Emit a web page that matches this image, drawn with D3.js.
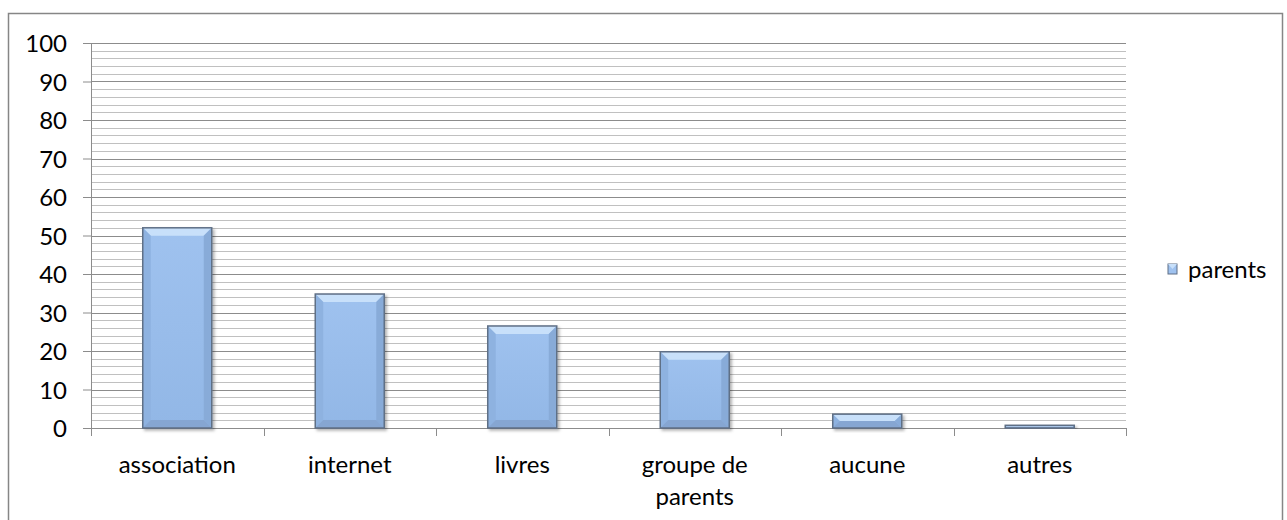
<!DOCTYPE html>
<html>
<head>
<meta charset="utf-8">
<script src="https://cdn.jsdelivr.net/npm/d3@7"></script>
<style>
  body { margin: 0; background: #fff; }
  text { font-family: Lato, "Open Sans", sans-serif; fill: #000; }
</style>
</head>
<body>
<div id="chart"></div>
<script>
// chart data
var categories = ["association", "internet", "livres", "groupe de parents", "aucune", "autres"]
var labelLines = [["association"], ["internet"], ["livres"], ["groupe de", "parents"], ["aucune"], ["autres"]]
var values = [52, 34.8, 26.5, 19.8, 3.6, 0.7]
var seriesName = "parents"
var yTicks = [0, 10, 20, 30, 40, 50, 60, 70, 80, 90, 100]

var W = 1287, H = 520
var margin = {top: 43, left: 91, right: 161, bottom: 92}
var width = W - margin.left - margin.right
var height = H - margin.top - margin.bottom
var fontSize = "24px"

var svg = d3.select("#chart").append("svg").attr("width", W).attr("height", H)

var defs = svg.append("defs")
var grad = defs.append("linearGradient").attr("id", "barGrad").attr("x1", 0).attr("y1", 0).attr("x2", 0).attr("y2", 1)
grad.append("stop").attr("offset", "0%").attr("stop-color", "#9fc2ef")
grad.append("stop").attr("offset", "100%").attr("stop-color", "#92b7e6")
var shadow = defs.append("filter").attr("id", "shadow").attr("x", "-20%").attr("y", "-20%").attr("width", "150%").attr("height", "150%")
shadow.append("feDropShadow").attr("dx", 2).attr("dy", 2).attr("stdDeviation", 1.5).attr("flood-color", "#000").attr("flood-opacity", 0.3)

// outer frame
svg.append("rect")
  .attr("x", 8.5).attr("y", 13.5).attr("width", 1274).attr("height", 520)
  .style("fill", "none").style("stroke", "#868686").style("stroke-width", "1.5px")

var g = svg.append("g").attr("transform", "translate(" + margin.left + "," + margin.top + ")")

var x = d3.scaleBand().domain(categories).range([0, width]).paddingInner(0.6).paddingOuter(0.3)
var xBand = d3.scaleBand().domain(categories).range([0, width])
var y = d3.scaleLinear().domain([0, 100]).range([height, 0])

// minor and major gridlines
var minor = d3.range(2, 100, 2).filter(function(d){ return d % 10 != 0 })
g.selectAll(".minor").data(minor).enter().append("line")
  .attr("x1", 0).attr("x2", width)
  .attr("y1", function(d){ return Math.round(y(d)) + 0.5 })
  .attr("y2", function(d){ return Math.round(y(d)) + 0.5 })
  .style("stroke", "#c0c0c0").style("stroke-width", "1.2px")
g.selectAll(".major").data(yTicks.slice(1)).enter().append("line")
  .attr("x1", 0).attr("x2", width)
  .attr("y1", function(d){ return Math.round(y(d)) + 0.5 })
  .attr("y2", function(d){ return Math.round(y(d)) + 0.5 })
  .style("stroke", "#8c8c8c").style("stroke-width", "1.2px")

// y axis
var yAxis = g.append("g").call(d3.axisLeft(y).tickValues(yTicks).tickSize(8).tickPadding(16))
yAxis.select(".domain").style("stroke", "#8c8c8c")
yAxis.selectAll(".tick line").style("stroke", "#8c8c8c")
yAxis.selectAll(".tick text").style("font-size", fontSize).attr("dy", "0.36em")

// x axis with ticks at band boundaries
var xAxisG = g.append("g").attr("transform", "translate(0," + height + ")")
xAxisG.append("line").attr("x1", 0).attr("x2", width).attr("y1", 0.5).attr("y2", 0.5).style("stroke", "#8c8c8c")
var bounds = categories.map(function(c){ return xBand(c) }).concat([width])
xAxisG.selectAll(".xtick").data(bounds).enter().append("line")
  .attr("x1", function(d){ return Math.round(d) + 0.5 }).attr("x2", function(d){ return Math.round(d) + 0.5 })
  .attr("y1", 0).attr("y2", 8).style("stroke", "#8c8c8c")
var xl = xAxisG.selectAll(".xlabel").data(categories).enter().append("text")
  .attr("text-anchor", "middle")
  .attr("x", function(d){ return xBand(d) + xBand.bandwidth() / 2 })
  .attr("y", 45)
  .style("font-size", fontSize)
xl.selectAll("tspan").data(function(d, i){ return labelLines[i] }).enter().append("tspan")
  .attr("x", function(){ return d3.select(this.parentNode).attr("x") })
  .attr("dy", function(d, i){ return i == 0 ? 0 : 32 })
  .text(function(d){ return d })

// bars with bevel
var bars = g.selectAll(".bar").data(values).enter().append("g").attr("class", "bar")
  .attr("filter", "url(#shadow)")
bars.each(function(v, i){
  var b = d3.select(this)
  var bx = x(categories[i]), bw = x.bandwidth()
  var by = y(v), bh = height - y(v)
  b.append("rect").attr("x", bx).attr("y", by).attr("width", bw).attr("height", bh)
    .style("fill", "url(#barGrad)")
  var bev = Math.min(8, bh / 2, bw / 2)
  if(bh > 2){
    // top light
    b.append("path").attr("d", "M" + bx + "," + by + "L" + (bx + bw) + "," + by + "L" + (bx + bw - bev) + "," + (by + bev) + "L" + (bx + bev) + "," + (by + bev) + "Z")
      .style("fill", "#c8e0fa")
    // left
    b.append("path").attr("d", "M" + bx + "," + by + "L" + (bx + bev) + "," + (by + bev) + "L" + (bx + bev) + "," + (by + bh - bev) + "L" + bx + "," + (by + bh) + "Z")
      .style("fill", "#8eb2e0")
    // right
    b.append("path").attr("d", "M" + (bx + bw) + "," + by + "L" + (bx + bw - bev) + "," + (by + bev) + "L" + (bx + bw - bev) + "," + (by + bh - bev) + "L" + (bx + bw) + "," + (by + bh) + "Z")
      .style("fill", "#88abd8")
    // bottom
    b.append("path").attr("d", "M" + bx + "," + (by + bh) + "L" + (bx + bev) + "," + (by + bh - bev) + "L" + (bx + bw - bev) + "," + (by + bh - bev) + "L" + (bx + bw) + "," + (by + bh) + "Z")
      .style("fill", "#86a6d2")
  }
  b.append("rect").attr("x", bx).attr("y", by).attr("width", bw).attr("height", Math.max(bh, 1))
    .style("fill", bh > 2 ? "none" : "#7a8a9e").style("stroke", "#5f6f86").style("stroke-width", "1.5px")
})

// legend
var leg = svg.append("g").attr("transform", "translate(1168,264)")
leg.append("rect").attr("width", 9).attr("height", 10).style("fill", "#9fc2ef").style("stroke", "#5f6f86").style("stroke-width", "1px")
leg.append("path").attr("d", "M0,0L9,0L4.5,5Z").style("fill", "#c8e0fa")
leg.append("text").attr("x", 20).attr("y", 5).attr("dy", "0.36em").style("font-size", fontSize).text(seriesName)
</script>
</body>
</html>
